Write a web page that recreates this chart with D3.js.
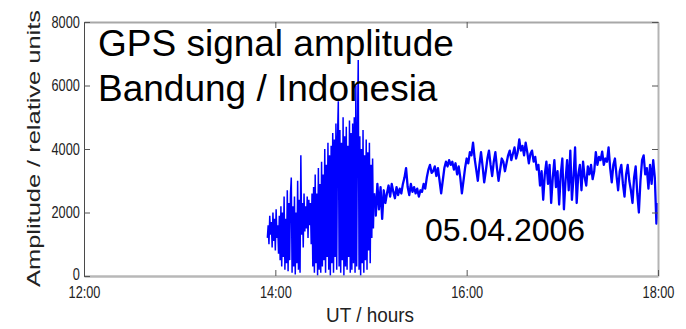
<!DOCTYPE html>
<html>
<head>
<meta charset="utf-8">
<script src="https://cdn.jsdelivr.net/npm/d3@7"></script>
<style>
  body { margin: 0; background: #fff; }
  svg { display: block; font-family: "Liberation Sans", Arial, sans-serif; }
</style>
</head>
<body>
<svg id="svg_chart" width="686" height="329"></svg>
<script>

// data
// burst part: starts 13:55 UT, one value every half minute
const burstStart = 13 + 55 / 60;
const burstStep = 0.5 / 60;
const burstValues = [
  1200, 1600, 1000, 1900, 1300, 1700, 900, 2000, 1100, 1800, 800, 2100, 1200, 1600, 700, 1900, 500, 2200,
  300, 2000, 600, 2500, 200, 1800, 400, 2700, 150, 2300, 500, 2600, 3100,
  100, 2200, 300, 2500, 50, 2000, 400, 3000, 200, 2400, 100, 3800,
  1300, 2300, 900, 2600, 1400, 2200, 1500, 2500, 1200, 2400, 1600, 2300, 1000, 2600,
  300, 2800, 100, 3200, 400, 2600, 0, 3400, 200, 2900, 100,
  3600, 300, 3200, 500, 4000, 100, 3500, 600, 4200, 200, 3800, 0, 4100,
  400, 4500, 100, 4300, 600, 4800, 200, 4400, 5500, 300,
  4600, 100, 4200, 500, 5000, 0, 4400, 300, 4700, 200, 4100, 600, 4900, 100, 4500,
  200, 4800, 400, 5000, 100, 6000, 300, 4600, 6800, 200,
  4400, 0, 4000, 400, 4600, 100, 3800, 500, 4300, 200,
  3900, 800, 4200, 400, 3500, 1200, 3700, 1500, 2600
];

// quieter part: starts 15:02 UT, one value per minute
const calmStart = 15 + 2 / 60;
const calmStep = 1 / 60;
const calmValues = [
  2600, 1900, 2900, 2100, 2800, 1800, 2700, 2300,
  2600, 2850, 2500, 2900, 2650, 2450, 2800, 2550, 2750,
  2600, 2900, 3100, 3400,
  2800, 2550, 2900, 2650, 2800, 2600, 2750, 2500, 2700, 2650, 2900, 2750,
  3100, 3350, 3500, 3250,
  3300, 3450, 3150, 3400, 3000, 2600,
  3000, 3400, 3600, 3450, 3650, 3500,
  3600, 3350, 3550, 3200, 3450, 3100, 2600,
  3000, 3400, 3700, 3550, 3900, 3800, 4200,
  3700, 3350, 3000, 3500, 3900, 3450, 2950, 3300,
  3700, 3950, 3500, 3150, 3600, 3900, 3400, 3000, 3350, 3700,
  3600, 3300, 3550, 3800, 3950, 3650, 3850, 4050, 3700, 3900,
  4300, 3950, 4100, 3800, 4200, 3900,
  3550, 3850, 3950, 3600, 3750, 3350, 3500,
  2850, 3300, 2400, 3200, 3600, 2900, 3500,
  2300, 3100, 3650, 2800, 3300, 2250, 3200, 3700, 2100, 3000,
  3650, 2700, 3950, 2400, 3100, 4050, 2300,
  3200, 3500, 2700, 3600, 3100, 2850, 3450, 3200,
  3500, 3050, 3300, 3900, 3500, 3750, 3650,
  3920, 3500, 3700, 3600, 4050, 3400, 2950, 3500,
  3700, 3150, 2700, 3300, 3500, 2900, 2500, 3200,
  3500, 3000, 2700, 2300, 3100, 3450, 2600, 2000,
  3000, 3650, 3800, 3200, 3400, 2750,
  3500, 2900, 3650, 3100, 1650, 2300
];

const xTicks = [12, 14, 16, 18];
const xTickLabels = ['12:00', '14:00', '16:00', '18:00'];
const yTicks = [0, 2000, 4000, 6000, 8000];

function chartGps(_svg) {

  // variables
  const svg = d3.select(`#svg_${_svg}`);

  const width = +svg.attr('width'),
    height = +svg.attr('height'),
    padLeft = 84,
    padRight = 28,
    padTop = 22,
    padBottom = 53;

  const innerWidth = width - padLeft - padRight;
  const innerHeight = height - padTop - padBottom;

  const pad = svg.append('g')
    .attr('transform', `translate(${padLeft}, ${padTop})`);

  // scales
  const x = d3.scaleLinear()
    .domain([12, 18])
    .range([0, innerWidth]);

  const y = d3.scaleLinear()
    .domain([0, 8000])
    .range([innerHeight, 0]);

  const burst = burstValues.map((v, i) => ({ t: burstStart + i * burstStep, v: v }));
  const calm = calmValues.map((v, i) => ({ t: calmStart + i * calmStep, v: v }));

  const line = d3.line()
    .x(d => x(d.t))
    .y(d => y(d.v));

  // axes, ticks point inwards
  const xAxisBottom = d3.axisBottom(x)
    .tickValues(xTicks)
    .tickFormat((d, i) => xTickLabels[i])
    .tickSizeInner(-6)
    .tickSizeOuter(0)
    .tickPadding(10);

  const xAxisTop = d3.axisTop(x)
    .tickValues(xTicks)
    .tickFormat('')
    .tickSizeInner(-6)
    .tickSizeOuter(0);

  const yAxisLeft = d3.axisLeft(y)
    .tickValues(yTicks)
    .tickFormat(d3.format('d'))
    .tickSizeInner(-6)
    .tickSizeOuter(0)
    .tickPadding(5.5);

  const yAxisRight = d3.axisRight(y)
    .tickValues(yTicks)
    .tickFormat('')
    .tickSizeInner(-6)
    .tickSizeOuter(0);

  // data lines
  pad.append('path')
    .datum(burst)
    .attr('d', line)
    .style('fill', 'none')
    .style('stroke', '#0000ff')
    .style('stroke-width', 1.5);

  pad.append('path')
    .datum(calm)
    .attr('d', line)
    .style('fill', 'none')
    .style('stroke', '#0000ff')
    .style('stroke-width', 2.3)
    .style('stroke-linejoin', 'round');

  // box + ticks
  const gTop = pad.append('g').call(xAxisTop);
  gTop.select('.domain').attr('stroke', '#a8a8a8').attr('stroke-width', 2);

  const gRight = pad.append('g')
    .attr('transform', `translate(${innerWidth},0)`)
    .call(yAxisRight);
  gRight.select('.domain').attr('stroke', '#b4b4b4').attr('stroke-width', 2);

  const gBottom = pad.append('g')
    .attr('transform', `translate(0,${innerHeight})`)
    .call(xAxisBottom);
  gBottom.select('.domain').attr('stroke', '#b8b8b8').attr('stroke-width', 2.5);

  const gLeft = pad.append('g').call(yAxisLeft);
  gLeft.select('.domain').attr('stroke', '#4a4a4a').attr('stroke-width', 1);

  pad.selectAll('.tick line').attr('stroke', '#555');

  // narrow tick labels
  pad.selectAll('.tick text')
    .attr('font-family', '"Liberation Sans", Arial, sans-serif')
    .attr('font-size', 17)
    .attr('fill', '#222')
    .attr('transform', 'scale(0.75,1)');

  // the zero label sits a little higher, as in the source figure
  gLeft.selectAll('.tick text').filter(d => d === 0).attr('dy', '0.2em');

  // axis titles
  svg.append('text')
    .attr('transform', `translate(40, ${padTop + innerHeight / 2 - 0.5}) rotate(-90)`)
    .attr('text-anchor', 'middle')
    .attr('font-size', 19)
    .attr('fill', '#222')
    .attr('textLength', 277)
    .attr('lengthAdjust', 'spacingAndGlyphs')
    .text('Amplitude / relative units');

  svg.append('text')
    .attr('x', 370)
    .attr('y', 322)
    .attr('text-anchor', 'middle')
    .attr('font-size', 21)
    .attr('fill', '#222')
    .attr('textLength', 88)
    .attr('lengthAdjust', 'spacingAndGlyphs')
    .text('UT / hours');

  // annotations
  const notes = [
    { text: 'GPS signal amplitude', x: 98, y: 56, size: 37 },
    { text: 'Bandung / Indonesia', x: 98, y: 101, size: 37 },
    { text: '05.04.2006', x: 425, y: 241, size: 32 }
  ];

  svg.selectAll('.note').data(notes)
    .join('text')
    .attr('class', 'note')
    .attr('x', d => d.x)
    .attr('y', d => d.y)
    .attr('font-size', d => d.size)
    .attr('fill', '#000')
    .text(d => d.text);
}

chartGps('chart');
</script>
</body>
</html>
